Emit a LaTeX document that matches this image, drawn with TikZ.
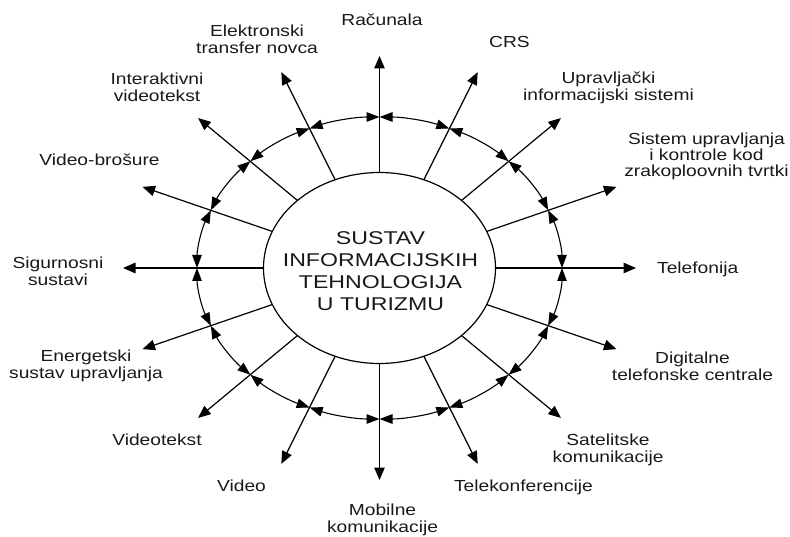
\documentclass[tikz,border=0pt]{standalone}
\usepackage{fontspec}
\setmainfont{Liberation Sans}
\usepackage{graphicx}
\usetikzlibrary{arrows.meta,shapes.geometric}
\newcommand{\lbltext}[1]{\scalebox{1.2}[1]{\begin{tabular}{@{}c@{}}#1\end{tabular}}}
\begin{document}
\begin{tikzpicture}[x=1pt,y=1pt,
  spoke/.style={line width=1.2pt,-{Triangle[length=12.5pt,width=10.5pt]}},
  ringarc/.style={line width=1.1pt,{Triangle[length=13pt,width=9.5pt]}-{Triangle[length=13pt,width=9.5pt]}},
  lbl/.style={inner sep=0pt,anchor=north,text=black!90,font=\fontsize{16}{17}\selectfont},
  hub/.style={draw,line width=1.2pt,ellipse,minimum width=232pt,minimum height=191pt,inner sep=0pt}]
\useasboundingbox (0,0) rectangle (790,536);
\coordinate (C) at (379.5,268);
\node[hub] (core) at (C) {};
\node[inner sep=0pt,text=black!90,font=\fontsize{18.5}{21.7}\selectfont] (coretext) at (380.5,262.8)
  {\scalebox{1.25}[1]{\begin{tabular}{@{}c@{}}SUSTAV\\INFORMACIJSKIH\\TEHNOLOGIJA\\U TURIZMU\end{tabular}}};
% spoke geometry
\foreach \k in {0,...,15} {
  \pgfmathsetmacro\a{90-22.5*\k}
  \coordinate (i\k) at ({379.5+116*cos(\a)},{268+95.5*sin(\a)});
  \coordinate (o\k) at ({379.5+182.5*cos(\a)},{268+151*sin(\a)});
  \coordinate (t\k) at ({379.5+256.5*cos(\a)},{268+212*sin(\a)});
}
\foreach \k in {0,...,15} \draw[spoke] (i\k) -- (t\k);
\foreach \k in {0,...,15} {
  \pgfmathsetmacro\a{90-22.5*\k}
  \pgfmathsetmacro\b{\a-22.5}
  \draw[ringarc] (o\k) arc[start angle=\a, end angle=\b, x radius=182.5pt, y radius=151pt];
}
% labels
\node[lbl] (l0) at (382,522.9) {\lbltext{Računala}};
\node[lbl] (l1) at (509.5,500.6) {\lbltext{CRS}};
\node[lbl] (l2) at (608.5,464.6) {\lbltext{Upravljački\\informacijski sistemi}};
\node[lbl,font=\fontsize{16}{15.5}\selectfont] (l3) at (706.5,403.6) {\lbltext{Sistem upravljanja\\i kontrole kod\\zrakoploovnih tvrtki}};
\node[lbl] (l4) at (697.7,274.6) {\lbltext{Telefonija}};
\node[lbl] (l5) at (692.5,184.6) {\lbltext{Digitalne\\telefonske centrale}};
\node[lbl] (l6) at (608,102.9) {\lbltext{Satelitske\\komunikacije}};
\node[lbl] (l7) at (523.5,56.2) {\lbltext{Telekonferencije}};
\node[lbl] (l8) at (382.5,32.9) {\lbltext{Mobilne\\komunikacije}};
\node[lbl] (l9) at (241.5,56.2) {\lbltext{Video}};
\node[lbl] (l10) at (157,102.9) {\lbltext{Videotekst}};
\node[lbl] (l11) at (86,186.2) {\lbltext{Energetski\\sustav upravljanja}};
\node[lbl] (l12) at (58,279.6) {\lbltext{Sigurnosni\\sustavi}};
\node[lbl] (l13) at (99.5,382.9) {\lbltext{Video-brošure}};
\node[lbl] (l14) at (157,463.9) {\lbltext{Interaktivni\\videotekst}};
\node[lbl] (l15) at (257,511.9) {\lbltext{Elektronski\\transfer novca}};
\end{tikzpicture}
\end{document}
